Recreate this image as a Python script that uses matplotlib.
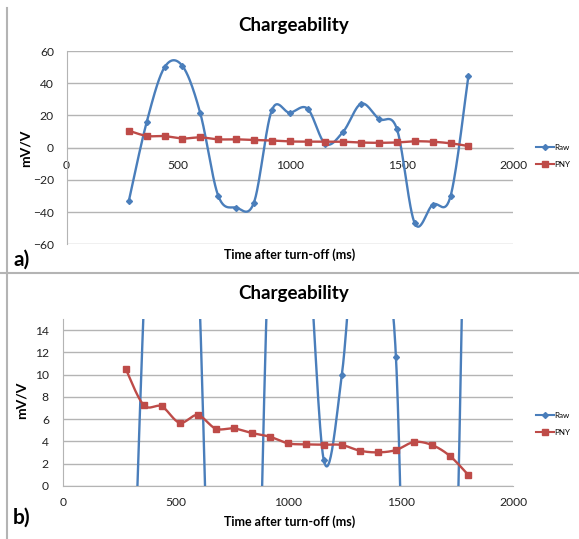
import numpy as np
import matplotlib
matplotlib.use("Agg")
import matplotlib.pyplot as plt
from matplotlib.lines import Line2D

plt.rcParams['font.family'] = ['Lato', 'DejaVu Sans']

# time after turn-off (ms)
times = [279, 359, 439, 519, 599, 679, 759, 839, 919, 999,
         1079, 1159, 1239, 1319, 1399, 1479, 1559, 1639, 1719, 1799]
raw = [-33.1, 15.9, 49.9, 50.7, 21.3, -29.8, -37.2, -34.1, 23.2, 21.7,
       24.2, 2.3, 10.0, 27.3, 17.8, 11.6, -47.0, -35.4, -30.2, 44.5]
pny = [10.53, 7.27, 7.15, 5.68, 6.37, 5.15, 5.17, 4.76, 4.43, 3.83,
       3.74, 3.71, 3.68, 3.17, 3.02, 3.23, 3.95, 3.68, 2.69, 1.02]

blue = '#4A7EBB'
red = '#BE4B48'
grid_c = '#b4b4b4'


def smooth(x, y, n=30):
    # excel-like smoothed line: catmull-rom as cubic bezier
    p = np.column_stack([x, y]).astype(float)
    p = np.vstack([p[0], p, p[-1]])
    out = []
    t = np.linspace(0, 1, n)[:, None]
    for i in range(1, len(p) - 2):
        a = p[i]
        d = p[i + 1]
        b = a + (p[i + 1] - p[i - 1]) / 6.0
        c = d - (p[i + 2] - p[i]) / 6.0
        seg = (1-t)**3*a + 3*(1-t)**2*t*b + 3*(1-t)*t**2*c + t**3*d
        out.append(seg if i == 1 else seg[1:])
    out = np.vstack(out)
    return out[:, 0], out[:, 1]


W, H = 579, 539
fig = plt.figure(figsize=(W/100, H/100), dpi=100)


def ax_px(l, t, r, b):
    return fig.add_axes([l/W, 1-b/H, (r-l)/W, (b-t)/H])


def draw(ax, ylim, yticks, ypad, xpad, zero_axis):
    xs, ys = smooth(times, raw)
    ax.plot(xs, ys, color=blue, lw=1.7, zorder=3)
    ax.plot(times, raw, ls='none', marker='D', ms=3, color=blue, zorder=4)
    xs, ys = smooth(times, pny)
    ax.plot(xs, ys, color=red, lw=1.7, zorder=3)
    ax.plot(times, pny, ls='none', marker='s', ms=5, color=red, zorder=4)
    ax.set_xlim(0, 2000)
    ax.set_ylim(*ylim)
    ax.set_xticks([0, 500, 1000, 1500, 2000])
    ax.set_yticks(yticks)
    ax.grid(axis='y', color=grid_c, lw=1.0)
    ax.set_axisbelow(True)
    for s in ['top', 'right']:
        ax.spines[s].set_visible(False)
    ax.spines['left'].set_color(grid_c)
    ax.spines['bottom'].set_color(grid_c)
    if zero_axis:
        ax.spines['bottom'].set_position(('data', 0))
    ax.tick_params(length=0, labelsize=8.7, colors='#222222')
    ax.tick_params(axis='y', pad=ypad)
    ax.tick_params(axis='x', pad=xpad)


# panel a
ax1 = ax_px(66.5, 51, 513.3, 244.3)
draw(ax1, (-60, 60), range(-60, 61, 20), 9.0, 9.0, True)

# panel b
ax2 = ax_px(62.8, 319, 513.3, 486)
draw(ax2, (0, 15), range(0, 15, 2), 10.0, 8.0, False)

for yt, yy, yl, yx, lab, ly in [(25, 255, 148, 26, 'a)', 260),
                                 (294, 522, 400, 22, 'b)', 518)]:
    fig.text(293.6/W, 1-yt/H, 'Chargeability', ha='center', va='center',
             fontsize=13.5, fontweight='bold')
    fig.text(290/W, 1-yy/H, 'Time after turn-off (ms)', ha='center',
             va='center', fontsize=9, fontweight='bold')
    fig.text(yx/W, 1-yl/H, 'mV/V', ha='center', va='center', rotation=90,
             fontsize=10, fontweight='bold')
    fig.text(22/W, 1-ly/H, lab, ha='center', va='center', fontsize=15,
             fontweight='bold')

handles = [Line2D([], [], color=blue, lw=1.5, marker='D', ms=3),
           Line2D([], [], color=red, lw=1.5, marker='s', ms=5)]
for yc in [155.8, 424]:
    fig.legend(handles, ['Raw', 'PNY'], loc='center left',
               bbox_to_anchor=(536/W, 1-yc/H), frameon=False, fontsize=5.8,
               handlelength=2.2, handletextpad=0.1, labelspacing=1.2,
               borderpad=0, borderaxespad=0)

# frame lines around the panels
fig.add_artist(Line2D([6.7/W, 6.7/W], [0, 1-8/H], color='#b4b4b4', lw=1.5))
fig.add_artist(Line2D([0, 578/W], [1-272.7/H, 1-272.7/H], color='#b4b4b4', lw=1.5))

fig.savefig('out.png', dpi=100)
